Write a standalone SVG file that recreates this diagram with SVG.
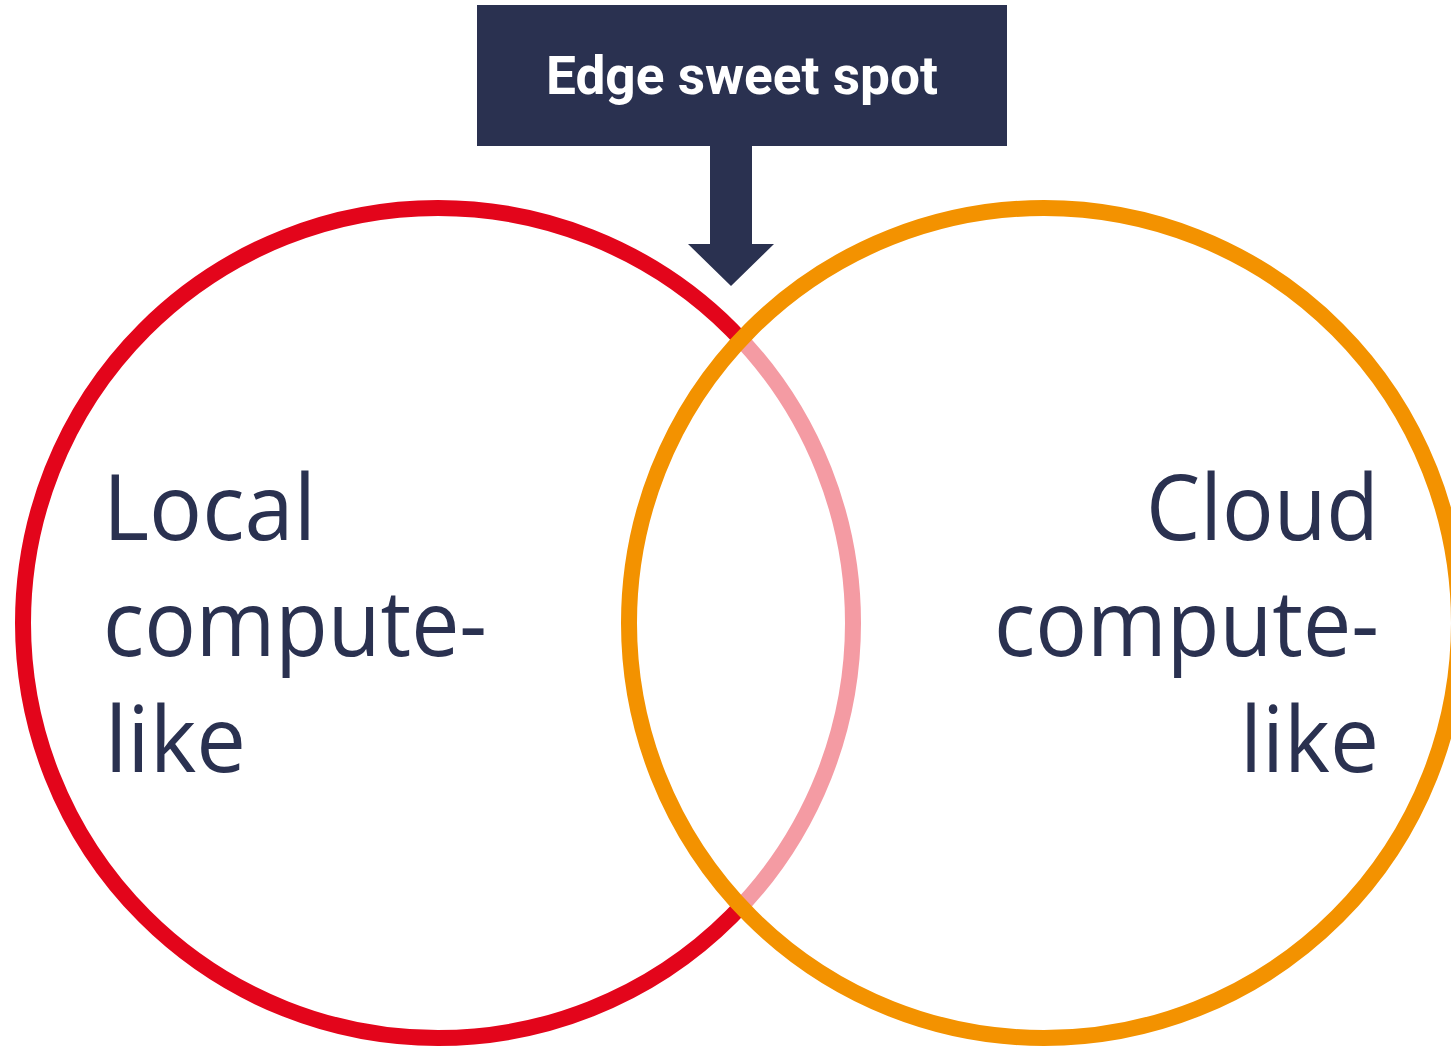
<svg xmlns="http://www.w3.org/2000/svg" width="1451" height="1047" viewBox="0 0 1451 1047">
  <style>
    .ring { stroke-width: 16; }
    .label { font-family: "Open Sans", "Noto Sans", "Liberation Sans", sans-serif; font-size: 92px; fill: #2A3150; }
    .callout-text { font-family: Roboto, "Liberation Sans", sans-serif; font-weight: 700; font-size: 53px; fill: #FFFFFF; }
    .navy { fill: #2A3150; }
  </style>
  <rect width="1451" height="1047" fill="#FFFFFF"/>

  <g id="local-circle">
    <circle class="ring" cx="438" cy="623" r="415" fill="none" stroke="#E3051B"/>
    <text class="label" x="103" y="540" textLength="213" lengthAdjust="spacingAndGlyphs">Local</text>
    <text class="label" x="103" y="656" textLength="384" lengthAdjust="spacingAndGlyphs">compute-</text>
    <text class="label" x="105" y="772" textLength="141" lengthAdjust="spacingAndGlyphs">like</text>
  </g>

  <g id="cloud-circle">
    <!-- translucent white fill tints the red arc where the circles overlap -->
    <circle class="ring" cx="1044" cy="623" r="415" fill="#FFFFFF" fill-opacity="0.6" stroke="#F39200"/>
    <text class="label" x="1379" y="540" text-anchor="end" textLength="233" lengthAdjust="spacingAndGlyphs">Cloud</text>
    <text class="label" x="1379" y="656" text-anchor="end" textLength="385" lengthAdjust="spacingAndGlyphs">compute-</text>
    <text class="label" x="1379" y="772" text-anchor="end" textLength="139" lengthAdjust="spacingAndGlyphs">like</text>
  </g>

  <g id="edge-sweet-spot">
    <rect class="navy" x="477" y="5" width="530" height="141"/>
    <text class="callout-text" x="742" y="94" text-anchor="middle" textLength="392" lengthAdjust="spacingAndGlyphs">Edge sweet spot</text>
  </g>

  <g id="connectors">
    <polygon class="navy" points="710,145 752,145 752,244 774,244 731,286 688,244 710,244"/>
  </g>
</svg>
